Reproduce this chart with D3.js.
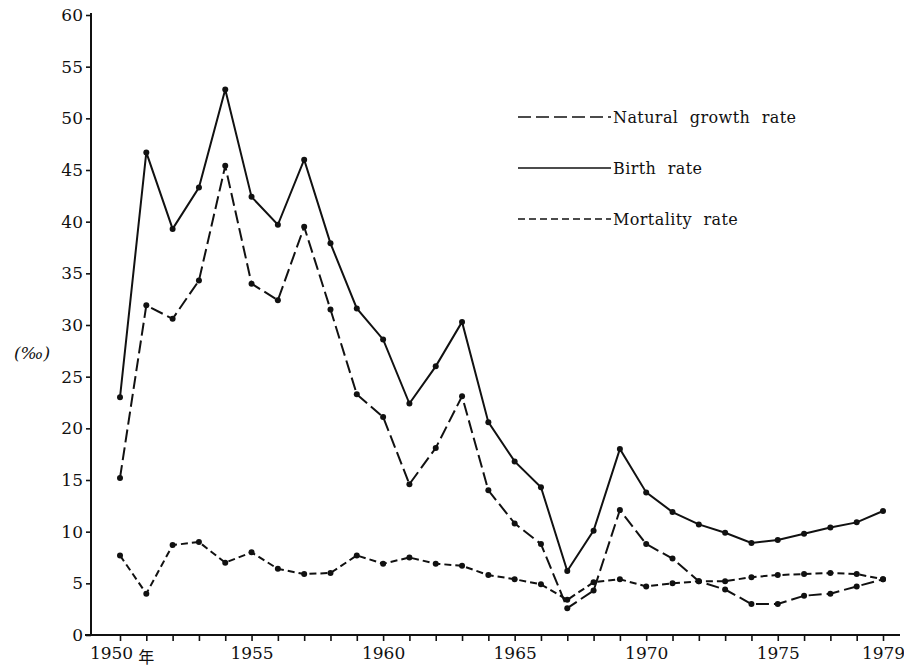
<!doctype html>
<html lang="en">
<head>
<meta charset="utf-8">
<title>Birth, mortality and natural growth rate</title>
<script src="https://d3js.org/d3.v7.min.js"></script>
<style>
  body { margin: 0; background: #fff; }
  svg text { font-family: "DejaVu Serif", "Liberation Serif", serif; fill: #111; }
  .axis path, .axis line { stroke: #111; }
  .legend text { font-size: 16px; letter-spacing: 0.4px; word-spacing: 6px; }
</style>
</head>
<body>
<svg width="904" height="670"></svg>
<script>
// data (per mille)
const years = [1950, 1951, 1952, 1953, 1954, 1955, 1956, 1957, 1958, 1959,
               1960, 1961, 1962, 1963, 1964, 1965, 1966, 1967, 1968, 1969,
               1970, 1971, 1972, 1973, 1974, 1975, 1976, 1977, 1978, 1979];
const birthRate = [23.0, 46.7, 39.3, 43.3, 52.8, 42.4, 39.7, 46.0, 37.9, 31.6,
                   28.6, 22.4, 26.0, 30.3, 20.6, 16.8, 14.3, 6.2, 10.1, 18.0,
                   13.8, 11.9, 10.7, 9.9, 8.9, 9.2, 9.8, 10.4, 10.9, 12.0];
const naturalGrowth = [15.2, 31.9, 30.6, 34.3, 45.4, 34.0, 32.4, 39.5, 31.5, 23.3,
                       21.1, 14.6, 18.1, 23.1, 14.0, 10.8, 8.8, 2.6, 4.3, 12.1,
                       8.8, 7.4, 5.2, 4.4, 3.0, 3.0, 3.8, 4.0, 4.7, 5.4];
const mortality = [7.7, 4.0, 8.7, 9.0, 7.0, 8.0, 6.4, 5.9, 6.0, 7.7,
                   6.9, 7.5, 6.9, 6.7, 5.8, 5.4, 4.9, 3.4, 5.1, 5.4,
                   4.7, 5.0, 5.2, 5.2, 5.6, 5.8, 5.9, 6.0, 5.9, 5.4];
const yTicks = [0, 5, 10, 15, 20, 25, 30, 35, 40, 45, 50, 55, 60];
const xLabelYears = [1950, 1955, 1960, 1965, 1970, 1975, 1979];

const series = [
  { name: "Natural growth rate", values: naturalGrowth, dash: "13,5" },
  { name: "Birth rate", values: birthRate, dash: null },
  { name: "Mortality rate", values: mortality, dash: "7,4" }
];

const svg = d3.select("svg");
const axisX = 91, axisY = 635;

const x = d3.scaleLinear().domain([1950, 1979]).range([120, 883]);
const y = d3.scaleLinear().domain([0, 60]).range([635, 15]);

// x axis
const gx = svg.append("g").attr("class", "axis")
  .attr("transform", `translate(0,${axisY})`)
  .call(d3.axisBottom(x)
    .tickValues(years)
    .tickSize(6)
    .tickSizeOuter(0)
    .tickPadding(6)
    .tickFormat(d => xLabelYears.includes(d) ? d : ""));
gx.select(".domain").remove();
gx.selectAll("line").attr("stroke-width", 1.6);
gx.selectAll("text").attr("font-size", 17).attr("font-family", "DejaVu Serif")
  .attr("dx", d => d === 1950 ? -9 : 0);
svg.append("line")
  .attr("x1", 85).attr("x2", 900).attr("y1", axisY).attr("y2", axisY)
  .attr("stroke", "#111").attr("stroke-width", 2);
svg.append("text")
  .attr("x", x(1951)).attr("y", axisY + 28)
  .attr("text-anchor", "middle")
  .style("font-family", "'Noto Sans CJK SC', sans-serif")
  .style("font-size", "16px")
  .text("年");

// y axis
const gy = svg.append("g").attr("class", "axis")
  .attr("transform", `translate(${axisX},0)`)
  .call(d3.axisLeft(y).tickValues(yTicks).tickSize(5).tickSizeOuter(0).tickPadding(3));
gy.select(".domain").remove();
gy.selectAll("line").attr("stroke-width", 1.6);
gy.selectAll("text").attr("font-size", 17).attr("font-family", "DejaVu Serif");
svg.append("line")
  .attr("x1", axisX).attr("x2", axisX).attr("y1", 13).attr("y2", axisY + 1)
  .attr("stroke", "#111").attr("stroke-width", 2);

svg.append("text")
  .attr("x", 32).attr("y", 359)
  .attr("text-anchor", "middle")
  .style("font-size", "17px").style("font-style", "italic")
  .text("(‰)");

// lines and points
const line = d3.line().x((d, i) => x(years[i])).y(d => y(d));

series.forEach(s => {
  svg.append("path")
    .datum(s.values)
    .attr("fill", "none")
    .attr("stroke", "#111")
    .attr("stroke-width", 2)
    .attr("stroke-dasharray", s.dash)
    .attr("d", line);
  svg.append("g").selectAll("circle")
    .data(s.values)
    .join("circle")
    .attr("cx", (d, i) => x(years[i]))
    .attr("cy", d => y(d))
    .attr("r", 3)
    .attr("fill", "#111");
});

// legend
const legendRows = [117, 168, 219];
const legend = svg.append("g").attr("class", "legend");
series.forEach((s, i) => {
  const ly = legendRows[i];
  legend.append("line")
    .attr("x1", 518).attr("x2", 611).attr("y1", ly).attr("y2", ly)
    .attr("stroke", "#111").attr("stroke-width", 1.6)
    .attr("stroke-dasharray", s.dash);
  legend.append("text")
    .attr("x", 613).attr("y", ly + 6)
    .text(s.name);
});
</script>
</body>
</html>
